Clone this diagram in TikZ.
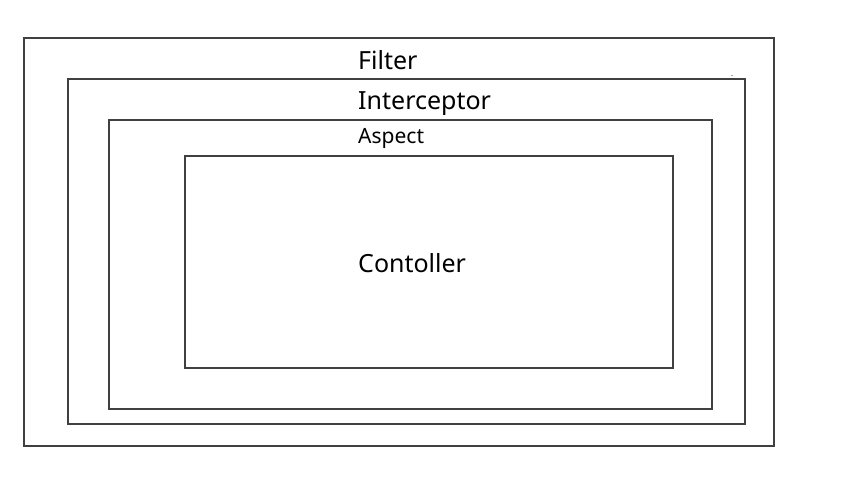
\documentclass[tikz,border=0pt]{standalone}
\usepackage{fontspec}
\setmainfont{Noto Sans}
\begin{document}
\begin{tikzpicture}[x=1pt,y=-1pt,
  box/.style={draw=black!75,line width=1.3pt},
  lbl/.style={anchor=base west,inner sep=0pt,text=black},
  big/.style={font=\fontsize{25}{29}\selectfont},
  small/.style={font=\fontsize{21}{25}\selectfont}]
\useasboundingbox (0,0) rectangle (857,483);
\draw[box] (24,38) rectangle (774,446);
\draw[box] (68,79) rectangle (745,424);
\draw[box] (109,120) rectangle (712,409);
\draw[box] (185,156) rectangle (673,368);
\node[lbl,big] (filter) at (358,69) {Filter};
\node[lbl,big] (interceptor) at (358,109) {Interceptor};
\node[lbl,small] (aspect) at (358,143) {Aspect};
\node[lbl,big] (controller) at (358,272) {Contoller};
\fill[black!70] (732,75.5) circle (0.6);
\end{tikzpicture}
\end{document}
